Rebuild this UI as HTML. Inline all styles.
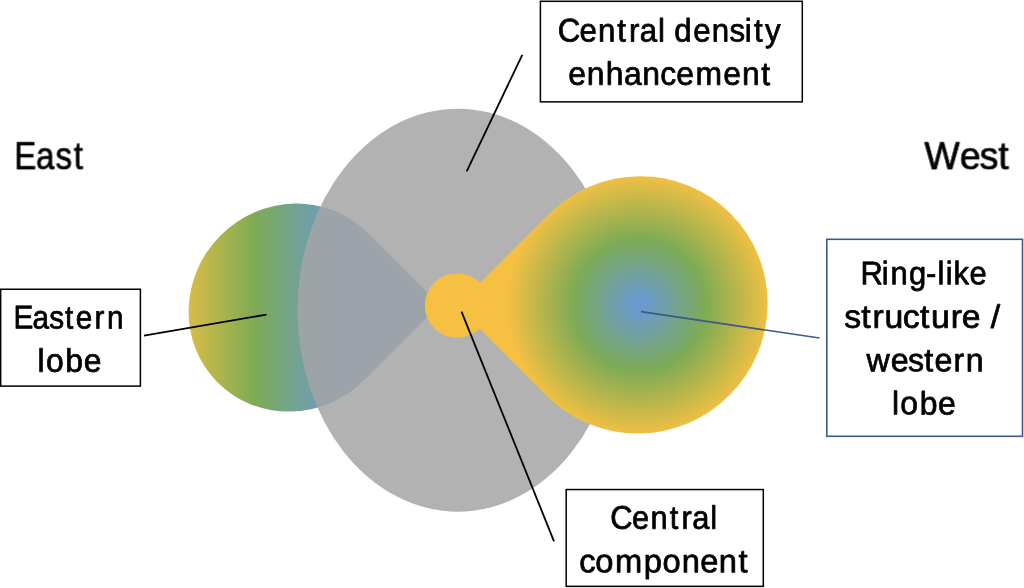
<!DOCTYPE html>
<html lang="en">
<head>
<meta charset="utf-8">
<title>Lobe structure schematic</title>
<style>
  html, body { margin: 0; padding: 0; background: #ffffff; }
  body { width: 1024px; height: 588px; overflow: hidden; }
  svg { display: block; }
  text { font-family: "Liberation Sans", sans-serif; fill: #000000; stroke: #000; stroke-width: 0.75px; stroke-linejoin: round; }
  .lbl { font-size: 32.6px; }
  .big { font-size: 38.03333333333334px; }
</style>
</head>
<body>
<svg width="1024" height="588" viewBox="0 0 1024 588">
  <defs>
    <linearGradient id="gEast" gradientUnits="userSpaceOnUse" x1="168" y1="0" x2="338" y2="0">
      <stop offset="0" stop-color="#F6C142"/>
      <stop offset="0.509" stop-color="#7EAB55"/>
      <stop offset="1" stop-color="#689AD0"/>
    </linearGradient>
    <radialGradient id="gWest" gradientUnits="userSpaceOnUse" cx="639" cy="305" r="133" fx="639" fy="305">
      <stop offset="0" stop-color="#689AD0"/>
      <stop offset="0.04" stop-color="#689AD0"/>
      <stop offset="0.5" stop-color="#7EAB55"/>
      <stop offset="1" stop-color="#F6C142"/>
    </radialGradient>
  </defs>

  <rect x="0" y="0" width="1024" height="588" fill="#ffffff"/>

  <!-- eastern lobe (teardrop, tip to the right) -->
  <path d="M 367.55 232.65 L 439.68 304.77 L 364.72 379.72 A 106.0 102.0 -45 1 1 367.55 232.65 Z" fill="url(#gEast)"/>

  <!-- central density enhancement -->
  <ellipse cx="457.8" cy="310.2" rx="160.3" ry="201.5" fill="#A5A5A5" fill-opacity="0.855"/>

  <!-- western lobe (teardrop, tip to the left) -->
  <path d="M 548.51 214.46 L 457.01 305.96 L 547.45 396.40 A 129.4 127.9 -45 1 0 548.51 214.46 Z" fill="url(#gWest)"/>

  <!-- central component -->
  <circle cx="457" cy="305.6" r="32.2" fill="#F6C142"/>

  <!-- leader lines -->
  <line x1="522.3" y1="54.8" x2="466.7" y2="171.3" stroke="#000" stroke-width="1.8"/>
  <line x1="144" y1="335.6" x2="266.5" y2="314.6" stroke="#000" stroke-width="1.8"/>
  <line x1="461.5" y1="311.7" x2="554" y2="541.3" stroke="#000" stroke-width="1.8"/>
  <line x1="641" y1="311.6" x2="819.5" y2="338" stroke="#3F5789" stroke-width="1.7"/>

  <!-- label boxes -->
  <rect x="540.40" y="1.30" width="261.90" height="100.55" fill="#ffffff" stroke="#000" stroke-width="1.5"/>
  <rect x="0.65" y="289.25" width="139.75" height="96.85" fill="#ffffff" stroke="#000" stroke-width="1.5"/>
  <rect x="566.20" y="489.55" width="197.10" height="96.80" fill="#ffffff" stroke="#000" stroke-width="1.5"/>
  <rect x="826.8" y="239.3" width="195.7" height="197" fill="#ffffff" stroke="#40578D" stroke-width="1.6"/>

  <!-- text labels -->
  <g opacity="0.999">
  <text class="big" transform="translate(14.46 169.19) skewY(0.03) scale(0.8629 1)" x="0.00 24.95 47.65 68.80" y="0">East</text>
  <text class="big" transform="translate(924.34 169.19) skewY(0.03) scale(0.9856 1)" x="0.00 35.93 56.11 75.09" y="0">West</text>
  <text class="lbl" transform="translate(557.81 41.50) skewY(0.03) scale(0.9581 1)" x="0.00 22.74 41.94 62.16 74.39 85.57 104.48 111.72 121.63 141.33 160.78 179.09 195.21 204.87 216.28" y="0">Central density</text>
  <text class="lbl" transform="translate(568.18 84.78) skewY(0.03) scale(0.9778 1)" x="0.00 19.06 38.54 57.05 75.85 94.26 110.47 130.11 158.59 177.65 197.56" y="0">enhancement</text>
  <text class="lbl" transform="translate(13.49 328.37) skewY(0.03) scale(0.9124 1)" x="0.00 20.88 39.07 56.40 68.18 88.68 102.48" y="0">Eastern</text>
  <text class="lbl" transform="translate(37.60 371.68) skewY(0.03) scale(0.9796 1)" x="0.00 8.59 28.36 47.09" y="0">lobe</text>
  <text class="lbl" transform="translate(610.35 528.82) skewY(0.03) scale(0.9464 1)" x="0.00 22.77 42.31 62.73 75.12 86.47 105.56" y="0">Central</text>
  <text class="lbl" transform="translate(579.27 572.13) skewY(0.03) scale(1.0029 1)" x="0.00 15.99 35.61 64.18 83.00 102.16 120.61 139.19 158.70" y="0">component</text>
  <text class="lbl" transform="translate(860.57 284.28) skewY(0.03) scale(0.9489 1)" x="0.00 22.39 31.53 51.09 68.97 81.00 89.77 97.92 114.72" y="0">Ring-like</text>
  <text class="lbl" transform="translate(844.23 327.64) skewY(0.03) scale(1.0355 1)" x="0.00 16.32 27.19 38.80 56.42 73.19 83.78 102.80 113.61 131.74 141.50" y="0">structure /</text>
  <text class="lbl" transform="translate(866.48 371.13) skewY(0.03) scale(0.9863 1)" x="0.00 24.59 42.14 58.54 68.98 88.15 100.70" y="0">western</text>
  <text class="lbl" transform="translate(891.90 414.37) skewY(0.03) scale(0.9796 1)" x="0.00 8.59 28.36 47.09" y="0">lobe</text>
  </g>
</svg>
</body>
</html>
